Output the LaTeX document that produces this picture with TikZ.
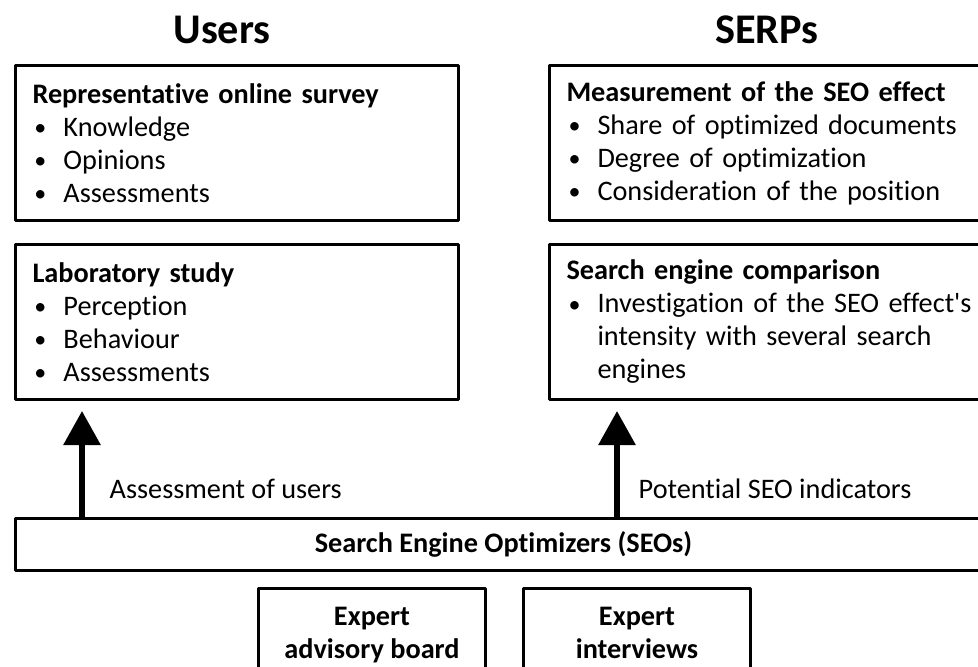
\documentclass[tikz,border=0pt]{standalone}
\usepackage{fontspec}
\setmainfont{Carlito}[Ligatures={NoCommon}]
\usetikzlibrary{arrows.meta, positioning}

% bullet line with hanging indent
\newcommand{\bul}[1]{\par\noindent\hangindent=23.25pt\hangafter=1%
  \makebox[23.25pt][l]{\hspace{1.5pt}\raisebox{0.5pt}{\fontsize{18}{20}\selectfont\textbullet}}#1\par}

\tikzset{
  title/.style={anchor=base, font=\fontsize{31.7}{36}\selectfont\bfseries},
  panel/.style={draw, line width=2.25pt, anchor=north west,
    minimum height=116.25pt, text width=306.75pt, inner xsep=12.75pt,
    inner ysep=0pt, align=left, font=\fontsize{21.2}{24.75}\selectfont},
  bar/.style={draw, line width=2.25pt, anchor=north west,
    minimum width=732pt, minimum height=39pt, inner sep=0pt,
    font=\fontsize{21.2}{24.75}\selectfont\bfseries},
  expert/.style={draw, line width=2.25pt, anchor=north west,
    minimum width=170.25pt, minimum height=70.5pt, inner sep=0pt,
    align=center, font=\fontsize{21.2}{24.75}\selectfont\bfseries},
  note/.style={anchor=base west, font=\fontsize{21.2}{24.75}\selectfont},
  flow/.style={line width=4.5pt, -{Triangle[length=25.5pt, width=27pt]}}
}

\begin{document}
\begin{tikzpicture}[x=0.75pt, y=-0.75pt, line join=round]

        \useasboundingbox (0,0) rectangle (978,667);

        % =========================
        % TITLES
        % =========================
        \node[title] (users) at (222,44) {Users};
        \node[title] (serps) at (767,44) {SERPs};

        % =========================
        % USERS SIDE
        % =========================
        \node[panel] (survey) at (14,64)
            {\textbf{Representative online survey}%
             \bul{Knowledge}\bul{Opinions}\bul{Assessments}};

        \node[panel] (lab) at (14,243)
            {\textbf{Laboratory study}%
             \bul{Perception}\bul{Behaviour}\bul{Assessments}};

        % =========================
        % SERPS SIDE
        % =========================
        \node[panel, text width=306pt] (measure) at (548,64)
            {\textbf{Measurement of the SEO effect}%
             \bul{Share of optimized documents}%
             \bul{Degree of optimization}%
             \bul{Consideration of the position}};

        \node[panel, text width=306pt] (compare) at (548,243)
            {\textbf{Search engine comparison}%
             \bul{Investigation of the SEO effect\textquotesingle s\newline
                  intensity with several search\newline engines}};

        % =========================
        % SEOS AND ARROWS
        % =========================
        \node[bar] (seo) at (14,517) {Search Engine Optimizers (SEOs)};

        \coordinate (tipL) at (82,411);
        \coordinate (tipR) at (617,411);

        \draw[flow] (seo.north -| tipL) -- (tipL);
        \draw[flow] (seo.north -| tipR) -- (tipR);

        \node[note] (lblL) at (105,498) {Assessment of users};
        \node[note] (lblR) at (634,498) {Potential SEO indicators};

        % =========================
        % EXPERTS
        % =========================
        \node[expert] (board) at (257,587) {Expert\strut\\advisory board\strut};
        \node[expert] (talks) at (522,587) {Expert\strut\\interviews\strut};

\end{tikzpicture}
\end{document}
